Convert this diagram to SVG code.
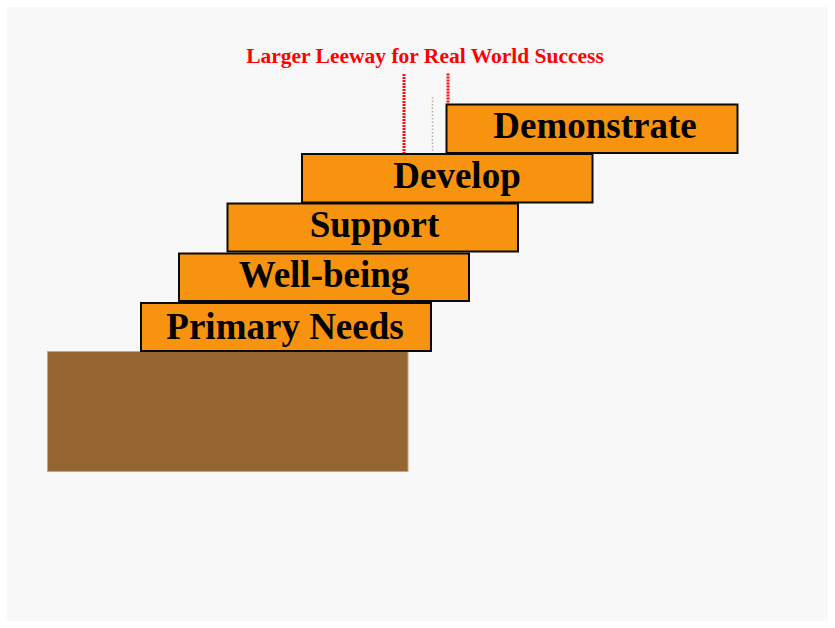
<svg xmlns="http://www.w3.org/2000/svg" width="835" height="628" viewBox="0 0 835 628">
  <style>
    .step rect { fill: #f8930f; stroke: #0a0a0a; stroke-width: 2; }
    .step text { font-family: "Liberation Serif", "Times New Roman", serif; font-weight: bold; font-size: 37px; fill: #000; text-anchor: middle; }
    .title { font-family: "Liberation Serif", "Times New Roman", serif; font-weight: bold; font-size: 21.5px; fill: #ff0000; text-anchor: middle; }
    .leeway { stroke: #ff0a0a; stroke-width: 3; stroke-dasharray: 2 1; fill: none; }
    .guide { stroke: #b0b0b0; stroke-width: 1.5; stroke-dasharray: 1.5 2; fill: none; }
  </style>

  <rect x="0" y="0" width="835" height="628" fill="#ffffff"/>
  <rect x="7" y="7" width="821" height="614" fill="#f8f8f8"/>

  <!-- ground block -->
  <g id="ground">
    <rect x="47.5" y="351.5" width="360.5" height="120" fill="#956532" stroke="#c9a57c" stroke-width="1"/>
  </g>

  <!-- staircase steps -->
  <g id="step-primary-needs" class="step">
    <rect x="141" y="303" width="290" height="48"/>
    <text x="285" y="339">Primary Needs</text>
  </g>
  <g id="step-well-being" class="step">
    <rect x="179" y="253.5" width="290" height="47.5"/>
    <text x="324" y="287">Well-being</text>
  </g>
  <g id="step-support" class="step">
    <rect x="227.5" y="203.5" width="290.5" height="48"/>
    <text x="374.5" y="237">Support</text>
  </g>
  <g id="step-develop" class="step">
    <rect x="302" y="154" width="290.5" height="48.5"/>
    <text x="457" y="188">Develop</text>
  </g>
  <g id="step-demonstrate" class="step">
    <rect x="446.5" y="104.5" width="291" height="48.5"/>
    <text x="595" y="138">Demonstrate</text>
  </g>

  <!-- leeway markers -->
  <g id="connectors">
    <line class="leeway" x1="404" y1="74" x2="404" y2="153"/>
    <line class="leeway" x1="448" y1="73.5" x2="448" y2="104"/>
    <line class="guide" x1="432.5" y1="97" x2="432.5" y2="153"/>
  </g>

  <g id="label-leeway">
    <text class="title" x="425" y="63">Larger Leeway for Real World Success</text>
  </g>
</svg>
